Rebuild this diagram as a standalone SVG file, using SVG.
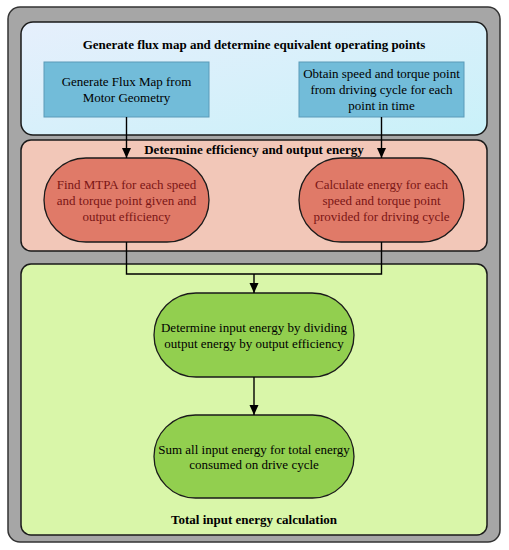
<svg xmlns="http://www.w3.org/2000/svg" width="509" height="550" viewBox="0 0 509 550">
<defs>
<marker id="arr" viewBox="0 0 10 10" refX="10" refY="5" markerWidth="10" markerHeight="10" markerUnits="userSpaceOnUse" orient="auto">
<path d="M0,0.5 L10,5 L0,9.5 z" fill="#000"/>
</marker>
<linearGradient id="gBlue" x1="0" y1="0" x2="1" y2="1">
<stop offset="0" stop-color="#e6effc"/>
<stop offset="1" stop-color="#c9f1f9"/>
</linearGradient>
</defs>
<style>
.panel{stroke:#1a1a1a;stroke-width:1.5}
.t{font-family:"Liberation Serif","Times New Roman",serif;font-size:13px;text-anchor:middle}
.b{font-weight:bold}
.box{fill:#72bcd9;stroke:#5a9ab8;stroke-width:1}
.red{fill:#e07a68;stroke:#1a1a1a;stroke-width:1.3}
.grn{fill:#92cf4f;stroke:#1a1a1a;stroke-width:1.3}
.rt{fill:#7a1515}
.c{fill:none;stroke:#000;stroke-width:1.4}
</style>
<rect x="8" y="7" width="492" height="535" rx="12" fill="#a6a6a6" stroke="#333" stroke-width="1.5"/>
<g id="panel-flux">
<rect class="panel" x="21" y="22" width="466" height="113" rx="12" fill="url(#gBlue)"/>
<text class="t b" x="254" y="49">Generate flux map and determine equivalent operating points</text>
</g>
<g id="panel-eff">
<rect class="panel" x="21" y="140" width="466" height="111" rx="10" fill="#f2c7b8"/>
<text class="t b" x="254" y="154">Determine efficiency and output energy</text>
</g>
<g id="panel-total">
<rect class="panel" x="21" y="264" width="466" height="271" rx="10" fill="#d9f6a9"/>
<text class="t b" x="254" y="524">Total input energy calculation</text>
</g>
<g id="n1">
<rect class="box" x="44" y="62" width="165" height="55"/>
<text class="t" x="126.5" y="86">Generate Flux Map from</text>
<text class="t" x="126.5" y="102">Motor Geometry</text>
</g>
<g id="n2">
<rect class="box" x="299" y="62" width="165" height="55"/>
<text class="t" x="381.5" y="78">Obtain speed and torque point</text>
<text class="t" x="381.5" y="94">from driving cycle for each</text>
<text class="t" x="381.5" y="110">point in time</text>
</g>
<g id="n3">
<rect class="red" x="44" y="158" width="165" height="84" rx="42"/>
<text class="t rt" x="126.5" y="189">Find MTPA for each speed</text>
<text class="t rt" x="126.5" y="205">and torque point given and</text>
<text class="t rt" x="126.5" y="221">output efficiency</text>
</g>
<g id="n4">
<rect class="red" x="299" y="158" width="165" height="84" rx="42"/>
<text class="t rt" x="381.5" y="189">Calculate energy for each</text>
<text class="t rt" x="381.5" y="205">speed and torque point</text>
<text class="t rt" x="381.5" y="221">provided for driving cycle</text>
</g>
<g id="n5">
<rect class="grn" x="154" y="293" width="200" height="84" rx="42"/>
<text class="t" x="254" y="332">Determine input energy by dividing</text>
<text class="t" x="254" y="348">output energy by output efficiency</text>
</g>
<g id="n6">
<rect class="grn" x="154" y="415" width="200" height="83" rx="41.5"/>
<text class="t" x="254" y="454">Sum all input energy for total energy</text>
<text class="t" x="254" y="469">consumed on drive cycle</text>
</g>
<g id="connectors">
<line class="c" x1="126.5" y1="117" x2="126.5" y2="158" marker-end="url(#arr)"/>
<line class="c" x1="381.5" y1="117" x2="381.5" y2="158" marker-end="url(#arr)"/>
<polyline class="c" points="126.5,242 126.5,274 381.5,274 381.5,242"/>
<line class="c" x1="254" y1="274" x2="254" y2="293" marker-end="url(#arr)"/>
<line class="c" x1="254" y1="377" x2="254" y2="415" marker-end="url(#arr)"/>
</g>
</svg>
